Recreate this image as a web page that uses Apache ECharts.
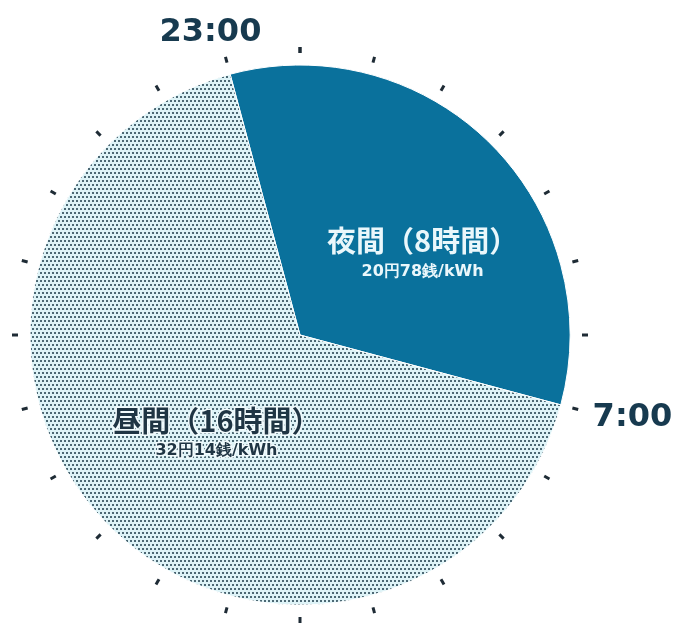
<!DOCTYPE html>
<html>
<head>
<meta charset="utf-8">
<script src="https://cdn.jsdelivr.net/npm/echarts@6/dist/echarts.min.js"></script>
<style>
html,body{margin:0;padding:0;background:#fff;}
#c{width:679px;height:625px;}
</style>
</head>
<body>
<div id="c"></div>
<script>
// ---- data ----
var sliceNames = ['夜間（8時間）', '昼間（16時間）'];
var sliceHours = [8, 16];
var slicePrices = ['20円78銭/kWh', '32円14銭/kWh'];
var clockHours = 24;
var startHour = 23;
var clockLabelHours = [23, 7];
var clockLabelTexts = ['23:00', '7:00'];

// ---- dotted pattern for the day slice ----
function makePattern() {
  var cv = document.createElement('canvas');
  cv.width = 4; cv.height = 8;
  var g = cv.getContext('2d');
  g.fillStyle = '#def3f7';
  g.fillRect(0, 0, 4, 8);
  g.fillStyle = '#4c6874';
  g.fillRect(0, 0, 2, 2);
  g.fillRect(2, 4, 2, 2);
  return cv;
}

var chart = echarts.init(document.getElementById('c'), null, {renderer: 'canvas'});
var center = [300, 335];

var lightTxt = '#eaf7fb', darkTxt = '#1f3544';
var pieData = sliceNames.map(function (n, i) {
  var c = i === 0 ? lightTxt : darkTxt;
  var halo = i === 0 ? {} : {textBorderColor: '#f2fbfd', textBorderWidth: 3};
  return {
    name: n,
    value: sliceHours[i],
    price: slicePrices[i],
    itemStyle: i === 0 ? {color: '#0a719c'} : {color: {image: makePattern(), repeat: 'repeat'}},
    label: {
      rich: {
        t: Object.assign({fontSize: 29, fontWeight: 'bold', color: c, fontFamily: 'Noto Sans CJK JP', lineHeight: 36}, halo),
        s: Object.assign({fontSize: 16, fontWeight: 'bold', color: c, fontFamily: 'DejaVu Sans', lineHeight: 24}, halo)
      }
    }
  };
});

chart.setOption({
  animation: false,
  polar: {center: center, radius: 400},
  angleAxis: {type: 'value', min: 0, max: clockHours, startAngle: 90, clockwise: true, show: false},
  radiusAxis: {type: 'value', min: 0, max: 400, show: false},
  series: [
    {
      type: 'pie',
      center: center,
      radius: [0, 270],
      startAngle: 90 + (clockHours - startHour) * 360 / clockHours,
      clockwise: true,
      silent: true,
      itemStyle: {borderColor: '#ffffff', borderWidth: 1},
      label: {
        show: true,
        position: 'inside',
        formatter: function (p) { return '{t|' + p.name + '}\n{s|' + p.data.price + '}'; }
      },
      labelLine: {show: false},
      labelLayout: function (p) {
        return p.dataIndex === 0 ? {dx: 25, dy: 16} : {dx: 14, dy: 0};
      },
      data: pieData
    },
    {
      type: 'gauge',
      center: center,
      radius: 288,
      min: 0,
      max: clockHours,
      splitNumber: clockHours,
      startAngle: 90,
      endAngle: -270,
      silent: true,
      pointer: {show: false},
      progress: {show: false},
      detail: {show: false},
      title: {show: false},
      axisLine: {show: false, lineStyle: {width: 0}},
      axisTick: {show: false},
      axisLabel: {show: false},
      splitLine: {show: true, length: 6, distance: 0, lineStyle: {color: '#1e2b35', width: 3}},
      data: []
    },
    {
      type: 'scatter',
      coordinateSystem: 'polar',
      silent: true,
      clip: false,
      symbolSize: 2,
      itemStyle: {color: 'rgba(255,255,255,0)', opacity: 1},
      data: clockLabelHours.map(function (h, i) {
        return {
          value: [i === 0 ? 315 : 340, h],
          name: clockLabelTexts[i],
          label: {offset: i === 0 ? [-8, 2] : [4, -5]}
        };
      }),
      label: {
        show: true,
        position: 'inside',
        formatter: '{b}',
        fontSize: 32,
        fontWeight: 'bold',
        color: '#173a4f',
        fontFamily: 'DejaVu Sans'
      }
    }
  ]
});
</script>
</body>
</html>
